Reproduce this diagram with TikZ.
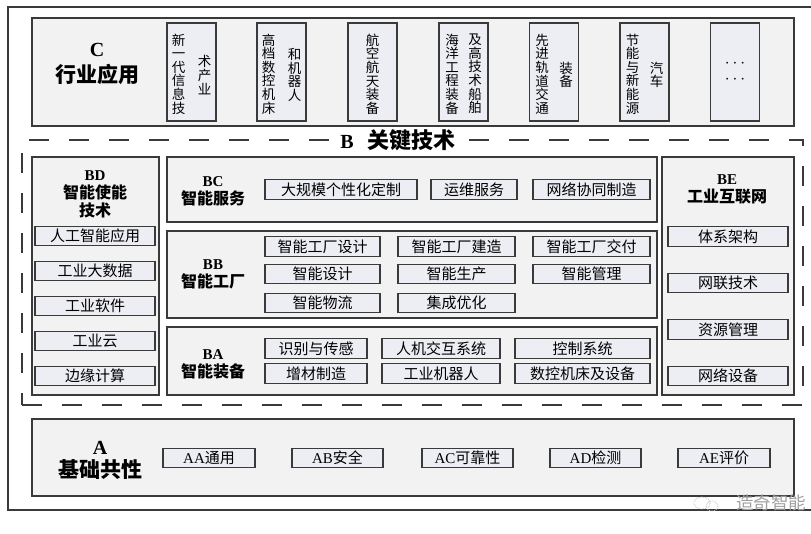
\documentclass[tikz,border=0pt]{standalone}
\usepackage{fontspec}
\setmainfont{Liberation Serif}
\newfontfamily\cjk{Noto Sans CJK SC}
\definecolor{boxfill}{HTML}{F2F2F2}
\definecolor{itemfill}{HTML}{ECEEF4}
\definecolor{edge}{HTML}{3A3A3A}
\begin{document}
\begin{tikzpicture}[x=1pt,y=-1pt,
  big/.style={draw=edge,line width=1.3pt,fill=boxfill,inner sep=0pt},
  item/.style={draw=edge,line width=1.1pt,fill=itemfill,inner sep=0pt,minimum height=19.5pt,font=\cjk\fontsize{15}{16}\selectfont},
  vbox/.style={draw=edge,line width=1.1pt,fill=itemfill,inner sep=0pt,minimum width=49pt,minimum height=98pt},
  vtxt/.style={align=center,inner sep=0pt,font=\cjk\fontsize{13.5}{13.6}\selectfont},
  dots/.style={inner sep=0pt,font=\fontsize{18}{18}\selectfont},
  lab/.style={align=center,inner sep=0pt,font=\bfseries\fontsize{16}{18}\selectfont},
  biglab/.style={align=center,inner sep=0pt,font=\bfseries\fontsize{21}{24}\selectfont},
]
\useasboundingbox (0,0) rectangle (811,533);
\fill[white] (0,0) rectangle (811,533);
% outer frame
\draw[edge,line width=1.5pt] (811,7) -- (8,7) -- (8,510) -- (811,510);

% ---------- C ----------
\node[big,minimum width=762pt,minimum height=108pt] (C) at (413,72) {};
\node[biglab] (Clab) at (97,64) {{\fontsize{20}{20}\selectfont C}\\[2pt]{\cjk 行业应用}};

\node[vbox] (c1) at (191.5,72) {};
\node[vtxt] (c1a) at (178.5,74) {新\\一\\代\\信\\息\\技};
\node[vtxt] (c1b) at (204.5,75) {术\\产\\业};
\node[vbox] (c2) at (281.5,72) {};
\node[vtxt] (c2a) at (268.5,74) {高\\档\\数\\控\\机\\床};
\node[vtxt] (c2b) at (294.5,75) {和\\机\\器\\人};
\node[vbox] (c3) at (372.5,72) {};
\node[vtxt] (c3a) at (372.5,74) {航\\空\\航\\天\\装\\备};
\node[vbox] (c4) at (463.5,72) {};
\node[vtxt] (c4a) at (452,74) {海\\洋\\工\\程\\装\\备};
\node[vtxt] (c4b) at (475,74) {及\\高\\技\\术\\船\\舶};
\node[vbox] (c5) at (554,72) {};
\node[vtxt] (c5a) at (542,74) {先\\进\\轨\\道\\交\\通};
\node[vtxt] (c5b) at (566,75) {装\\备};
\node[vbox] (c6) at (644.5,72) {};
\node[vtxt] (c6a) at (632.5,74) {节\\能\\与\\新\\能\\源};
\node[vtxt] (c6b) at (656.5,75) {汽\\车};
\node[vbox] (c7) at (735,72) {};
\node[dots] (c7a) at (735,64) {$\cdots$};
\node[dots] (c7b) at (735,80) {$\cdots$};

% ---------- B ----------
\node[draw=edge,line width=1.8pt,dash pattern=on 20pt off 20pt,minimum width=781pt,minimum height=265pt,inner sep=0pt] (B) at (412.5,272.5) {};
\node[fill=white,inner xsep=6pt,inner ysep=2pt] (Btitle) at (398,140)
  {{\bfseries\fontsize{20}{20}\selectfont B}\hspace{14pt}{\cjk\bfseries\fontsize{22}{22}\selectfont 关键技术}};

% BD
\node[big,minimum width=127pt,minimum height=238pt] (BD) at (95.5,276) {};
\node[lab] (BDlab) at (95,194) {{\fontsize{15}{15}\selectfont BD}\\{\cjk 智能使能}\\{\cjk 技术}};
\node[item,minimum width=120pt] (bd1) at (95,236) {人工智能应用};
\node[item,minimum width=120pt] (bd2) at (95,271) {工业大数据};
\node[item,minimum width=120pt] (bd3) at (95,306) {工业软件};
\node[item,minimum width=120pt] (bd4) at (95,341) {工业云};
\node[item,minimum width=120pt] (bd5) at (95,376) {边缘计算};

% BC
\node[big,minimum width=490pt,minimum height=65pt] (BC) at (412,189.5) {};
\node[lab] (BClab) at (213,191) {{\fontsize{15}{15}\selectfont BC}\\{\cjk 智能服务}};
\node[item,minimum width=152pt] (bc1) at (341,189.5) {大规模个性化定制};
\node[item,minimum width=86pt] (bc2) at (474,189.5) {运维服务};
\node[item,minimum width=117pt] (bc3) at (591.5,189.5) {网络协同制造};

% BB
\node[big,minimum width=490pt,minimum height=87pt] (BBx) at (412,274.5) {};
\node[lab] (BBlab) at (213,274) {{\fontsize{15}{15}\selectfont BB}\\{\cjk 智能工厂}};
\node[item,minimum width=115pt] (bb1) at (322.5,246.5) {智能工厂设计};
\node[item,minimum width=117pt] (bb2) at (456.5,246.5) {智能工厂建造};
\node[item,minimum width=117pt] (bb3) at (591.5,246.5) {智能工厂交付};
\node[item,minimum width=115pt] (bb4) at (322.5,274) {智能设计};
\node[item,minimum width=117pt] (bb5) at (456.5,274) {智能生产};
\node[item,minimum width=117pt] (bb6) at (591.5,274) {智能管理};
\node[item,minimum width=115pt] (bb7) at (322.5,303) {智能物流};
\node[item,minimum width=117pt] (bb8) at (456.5,303) {集成优化};

% BA
\node[big,minimum width=490pt,minimum height=68pt] (BA) at (412,361) {};
\node[lab] (BAlab) at (213,364) {{\fontsize{15}{15}\selectfont BA}\\{\cjk 智能装备}};
\node[item,minimum width=102pt] (ba1) at (316,348.5) {识别与传感};
\node[item,minimum width=118pt] (ba2) at (441,348.5) {人机交互系统};
\node[item,minimum width=135pt] (ba3) at (582.5,348.5) {控制系统};
\node[item,minimum width=102pt] (ba4) at (316,373.5) {增材制造};
\node[item,minimum width=118pt] (ba5) at (441,373.5) {工业机器人};
\node[item,minimum width=135pt] (ba6) at (582.5,373.5) {数控机床及设备};

% BE
\node[big,minimum width=132pt,minimum height=238pt] (BE) at (728,276) {};
\node[lab] (BElab) at (727,189) {{\fontsize{15}{15}\selectfont BE}\\{\cjk 工业互联网}};
\node[item,minimum width=120pt] (be1) at (728,236.5) {体系架构};
\node[item,minimum width=120pt] (be2) at (728,283) {网联技术};
\node[item,minimum width=120pt] (be3) at (728,329.5) {资源管理};
\node[item,minimum width=120pt] (be4) at (728,376) {网络设备};

% ---------- A ----------
\node[big,minimum width=762pt,minimum height=77pt] (A) at (413,457.5) {};
\node[biglab] (Alab) at (100,460) {{\fontsize{20}{20}\selectfont A}\\[-1pt]{\cjk 基础共性}};
\node[item,minimum width=92pt] (aa) at (209,458) {{\rmfamily AA}通用};
\node[item,minimum width=91pt] (ab) at (337.5,458) {{\rmfamily AB}安全};
\node[item,minimum width=91pt] (ac) at (467.5,458) {{\rmfamily AC}可靠性};
\node[item,minimum width=91pt] (ad) at (595.5,458) {{\rmfamily AD}检测};
\node[item,minimum width=92pt] (ae) at (724,458) {{\rmfamily AE}评价};

% watermark
\draw[gray!45,densely dotted,line width=0.8pt] (702,503) ellipse (8 and 6);
\draw[gray!45,densely dotted,line width=0.8pt] (712,506) ellipse (6 and 5);
\node[anchor=west,inner sep=0pt,text=gray!75,font=\cjk\fontsize{17.5}{18}\selectfont] (wm) at (736,503) {造奇智能};
\end{tikzpicture}
\end{document}
